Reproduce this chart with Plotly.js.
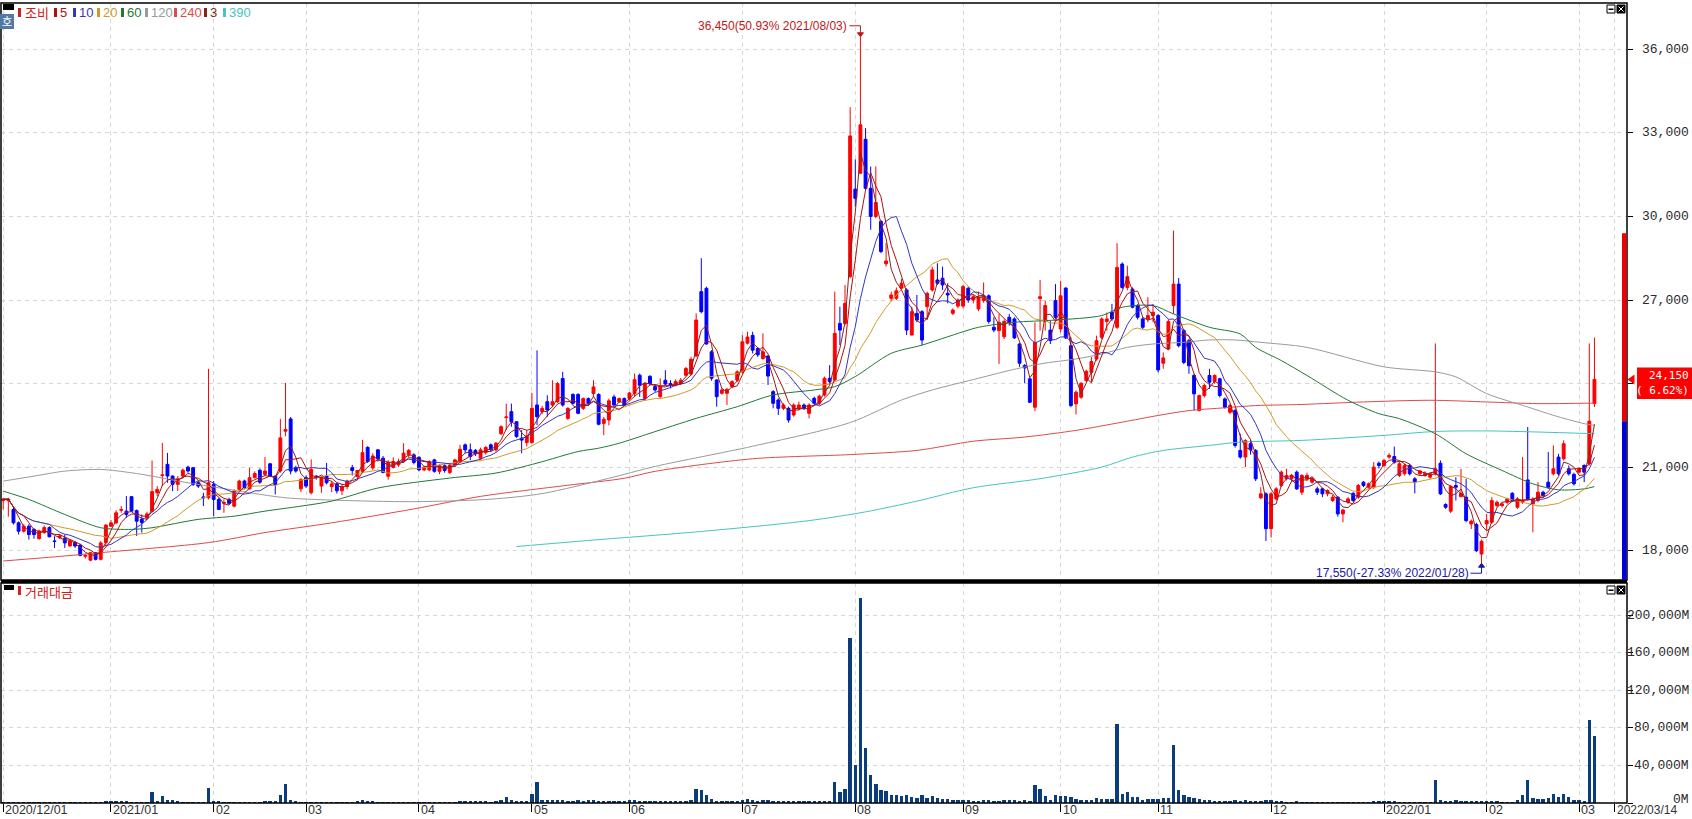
<!DOCTYPE html>
<html><head><meta charset="utf-8">
<script src="https://cdn.plot.ly/plotly-3.0.1.min.js"></script>
<style>html,body{margin:0;padding:0;background:#fff;overflow:hidden}#chart{width:1692px;height:819px}</style>
</head><body><div id="chart"></div>
<script>
// ---------- DATA (one entry per trading day, 2020/12/01 .. 2022/03) ----------
const openP = [
19800,19800,19480,19000,18700,18880,18760,18430,18650,18830,
18350,18470,18450,18170,18290,18200,17800,17660,17930,17690,
18290,18880,19000,19450,19420,19940,19440,19130,19180,19420,
20080,20700,21100,20680,20380,20680,21000,20980,20440,19930,
19900,20380,19840,19700,19840,19600,20200,20500,20220,20620,
20890,20740,21120,20680,20860,22290,22730,20980,20220,20620,
20080,20680,20320,20680,20300,20400,20150,20300,20980,20660,
20850,21710,20970,21620,21320,20670,20990,21080,21200,21440,
21440,21350,20900,20900,21260,20850,21050,20810,21080,21200,
21800,21620,21600,21320,21520,21800,21620,22200,22780,22990,
22630,22040,21880,21880,23230,22990,23350,23230,23350,24180,
22750,23610,23610,23110,23460,23640,23610,22570,22690,23520,
23350,23460,23460,23640,24300,23460,24260,23890,23530,24120,
24000,23950,24000,24300,24340,24990,27300,27420,25140,24130,
23650,23650,23890,24120,24420,25450,25730,25260,24900,24990,
23710,23410,23110,23110,22870,23110,23230,22930,23470,23290,
23590,24190,24130,26160,26160,27840,30980,31550,32770,31010,
30000,29820,28300,27060,27060,27420,27360,25740,26520,26580,
26760,27360,27720,27780,27240,26520,26780,26780,27420,27000,
26680,26980,27150,26020,25900,25680,26380,26320,25420,24650,
24170,23150,27050,26230,25920,26980,25960,27430,25360,23270,
23510,24110,24400,24880,25660,26230,26560,26020,28290,27450,
27390,26800,26320,26320,26440,26440,24730,25240,26800,27570,
25900,25540,24290,23030,23570,24290,24080,24170,23450,22970,
23030,21600,21360,21840,21600,19900,20040,18790,19860,20340,
20580,20580,20820,20100,20580,20460,20220,20220,20040,19800,
19920,19320,19740,20060,19920,20460,20280,20280,21140,21060,
21360,21380,20700,20760,21060,20580,20760,20700,20640,20760,
21140,19660,19420,20340,19940,19920,18960,18940,17880,18960,
19020,19620,19620,19740,20060,19560,19740,20540,19680,19800,
20100,20460,20760,21360,21300,20940,20740,20820,21060,21120,
23280];
const highP = [
19900,19900,19600,19050,18950,18950,18820,18760,18900,18880,
18520,18600,18580,18400,18350,18250,17900,17950,17950,18350,
18950,19100,19450,19600,19960,19950,19480,19300,19400,21240,
20320,21870,21510,20700,20680,20950,21050,21000,20500,20080,
24530,20500,19900,19840,19900,20200,20550,20550,20980,20850,
20950,21360,21150,20700,22730,24020,22800,21050,20600,20700,
21280,20700,20680,21150,20500,20450,20400,20550,21080,20900,
21980,21750,21500,21650,21400,21250,21350,21300,21860,21650,
21500,21400,21050,21250,21300,21100,21100,21150,21300,21800,
21850,21850,21650,21700,21750,21850,21900,22500,23280,23280,
22650,22330,22330,23670,25190,23200,23580,24120,24050,24420,
23150,23650,23650,23500,23500,24120,23650,22800,23460,23600,
23500,23500,23700,24360,24360,24050,24300,23950,24190,24480,
24120,24150,24200,24600,24960,26520,28500,27480,25200,24150,
23830,23850,24120,24480,25740,25860,25860,25300,25800,25020,
23760,23470,23290,23170,23290,23350,23290,23290,23530,23600,
24250,24660,27300,26760,27540,33920,32050,36450,33170,31790,
31790,29880,29050,27300,27450,27750,27420,26760,27180,26640,
27300,28200,28320,28200,27600,26700,27060,27540,27480,27180,
27300,27630,27200,26380,26500,26300,26500,26380,25450,24700,
24200,26200,27720,26980,26250,27570,27690,27450,25660,23750,
24050,24500,24950,25720,26380,26550,26860,29040,28350,28230,
27450,26850,26380,27100,26860,26500,25120,26300,29490,27790,
25960,25600,24350,23600,23990,24530,24330,24210,23500,23270,
23100,22200,22000,22000,21650,20280,20100,20100,20280,20880,
20940,20750,20880,20750,20800,20650,20300,20260,20200,20000,
19960,19500,19920,20100,20400,20500,20450,21180,21200,21300,
21500,21740,21200,21120,21120,20640,20900,20850,20800,25440,
21240,19700,20350,20640,20940,20580,19120,19000,18400,19320,
19920,19800,19750,19900,20100,19920,21360,22440,19920,20460,
20150,21540,21780,21480,21960,21060,20800,21000,21100,25440,
25650];
const lowP = [
19480,19220,18940,18580,18650,18400,18430,18400,18600,18480,
18100,18420,18100,18150,18100,17800,17720,17620,17650,17650,
18170,18850,18950,19360,19180,19400,18530,18650,19100,19400,
19960,20320,20440,20140,20140,20600,20800,20320,20250,19600,
19840,19240,19480,19360,19650,19550,20150,20200,20200,20600,
20400,20680,20650,20020,20800,22110,20740,20800,20100,20250,
20020,20550,20080,20380,20100,20050,20000,20200,20700,20550,
20800,21150,20900,21200,20780,20550,20950,21000,21150,21350,
21100,20850,20850,20850,20800,20750,20800,20750,21000,21150,
21500,21250,21400,21250,21450,21550,21550,22150,22330,22450,
22050,21500,21740,21850,22510,22900,22810,23150,23300,23170,
22700,23250,22900,23050,23200,23520,22500,22150,22500,23200,
23300,23200,23400,23520,23520,23400,23950,23700,23470,23950,
23830,23900,23950,24250,24300,24950,26520,25400,24100,23170,
23600,23230,23830,24060,24360,25400,25080,24960,24850,23950,
23110,22870,23050,22600,22810,23050,23050,22750,23230,23230,
23530,24000,24070,25380,26100,27780,30350,31550,30950,29520,
29940,28680,28200,26950,27000,27350,25740,25740,26200,25380,
26280,27300,27540,27360,26880,26460,26700,26700,26900,26880,
26600,26900,26150,25840,24700,25600,26080,25600,24600,24010,
23300,23010,25900,25900,25420,26320,25840,25600,23150,22890,
23450,24050,24050,24820,25600,25900,26250,25960,27400,27350,
26700,26300,25960,26200,26200,24400,24530,25200,26500,25300,
24700,24350,23030,23000,23500,23810,23990,23500,23100,22900,
21700,21300,21000,21450,20500,19850,18350,18470,19800,20280,
20520,20500,20180,20000,20500,20400,20000,19920,19950,19750,
19220,19020,19680,19750,19860,20280,20220,20220,20950,21000,
21300,21120,20640,20700,20700,20060,20700,20650,20580,20700,
20000,19500,19350,19800,19920,19020,18780,17950,17550,18720,
18960,19560,19550,19680,19750,19500,19680,19800,18660,19740,
19900,20220,20700,20700,21240,20700,20340,20760,20460,21060,
23160];
const closeP = [
19850,19850,19000,18700,18880,18580,18580,18700,18830,18500,
18330,18530,18280,18350,18170,17830,17830,17930,17690,18280,
18920,19000,19360,19480,19300,19420,19060,19010,19320,20120,
20200,20720,20680,20380,20580,20890,20860,20380,20320,19900,
20440,19840,19480,19730,19700,20140,20500,20260,20620,20770,
20460,20860,20680,20380,22050,22350,20860,20860,20560,20320,
20920,20620,20620,20440,20400,20150,20300,20500,20880,20880,
21520,21200,21400,21290,20810,21170,21200,21200,21500,21600,
21170,20900,21000,21200,20850,21050,20880,21070,21260,21640,
21620,21380,21480,21620,21710,21620,21860,22450,22800,22630,
22100,21970,22120,23110,22810,23110,23050,23350,24000,23230,
23110,23290,22930,23460,23290,23880,22540,22720,23380,23230,
23460,23230,23660,24140,23940,24000,24000,23770,23890,23980,
23950,24070,24120,24540,24870,26280,26580,25420,24190,23530,
23770,23790,24070,24420,25500,25670,25200,25030,25140,24270,
23290,23110,23230,22690,23230,23230,23110,23230,23290,23550,
24190,24070,25800,25920,26880,32890,30650,33290,31010,30000,
30500,28740,28400,27180,27330,27600,25920,26580,26280,25560,
27240,28080,27600,27540,27180,26640,27000,27480,27000,27120,
27100,27150,26230,25920,26200,26230,26200,25640,24730,24560,
23330,25480,27120,26800,25540,26380,27150,25640,23210,23690,
24010,24440,24790,25540,26320,26320,26320,28170,27450,27840,
26740,26380,26020,26440,26560,24490,24920,26230,27570,25360,
24760,24640,23630,23570,23930,24050,24290,23570,23150,23210,
21780,21360,21960,21620,20580,20040,18790,20040,20220,20820,
20700,20700,20220,20700,20700,20580,20100,20040,20160,19920,
19320,19460,19860,19800,20340,20340,20400,21000,21060,21240,
21420,21180,21120,21060,20760,20460,20860,20780,20760,20940,
20040,19560,20300,20280,20060,19080,19060,18000,18340,19080,
19800,19740,19680,19860,19800,19860,19800,19860,19860,20100,
19980,20280,20940,20760,21840,20760,20400,20940,20820,22650,
24150];
// 거래대금 (million KRW)
const tradeValue = [
1200,1500,1500,1000,900,900,800,800,900,900,
800,800,800,800,800,800,800,700,800,900,
1800,1800,1800,1800,1800,1600,1500,1500,1300,12000,
2600,7500,2900,2800,1800,1600,1500,1500,1600,1500,
16300,2600,1800,1200,1300,1500,1500,1400,1600,1500,
1300,2500,1800,1800,8300,19800,3500,1800,1500,1500,
1500,1200,1200,1100,1000,1000,900,1000,1600,1800,
3500,2200,1700,1500,1300,1600,1200,1100,1500,1500,
1300,1200,1000,1300,1100,900,900,1000,1300,2200,
2000,1800,1700,1700,1700,1500,1800,2800,6800,3200,
2300,2000,2000,10000,22000,3500,3000,3500,3500,3200,
2000,2200,3000,2200,3000,2700,2300,1800,2300,2200,
1800,1800,2800,2800,2300,1700,1800,1800,1800,2000,
1800,1700,1800,2000,3500,15000,14000,9000,4500,2500,
2000,2000,1900,2000,3000,3800,3200,2300,3200,2800,
2600,2000,2000,2000,1800,1800,1800,1800,1700,1700,
2200,2300,22000,12000,15000,176000,40000,218000,58000,30000,
20000,14000,13000,9000,9000,7000,8000,6000,5000,8000,
5500,7500,5500,4500,4000,3500,3500,3000,2800,2500,
2200,2700,2800,2400,2500,2700,2800,3000,2500,2800,
2400,19000,15000,7800,3000,8900,7000,7500,6000,4000,
3500,3500,3500,4800,4500,3800,4200,84000,10000,12000,
6000,6000,3000,4000,4500,4000,5000,5000,62000,14000,
8000,6000,5000,4000,3500,3000,2500,2500,2500,2500,
3000,2500,3000,2500,2500,2000,3000,3000,2200,2000,
1500,1500,1800,1500,1200,1200,1000,1000,1000,1200,
1500,1500,1000,1000,1500,1200,1500,2500,1800,1800,
1800,1700,1600,1200,1500,1200,1000,1000,1000,24000,
3000,2500,2500,3300,2500,2500,2000,2500,2200,2000,
2000,1800,1200,1000,1200,3000,8000,24000,5000,4000,
4000,5000,10000,6000,10000,6000,3000,3500,2500,88000,
71000];

// long moving averages (day index -> value)
const ma60Idx = [0,5,12,19,25,29,38,45,51,58,64,73,87,96,104,112,116,120,126,135,143,150,158,162,166,173,179,184,190,197,205,214,218,224,228,235,241,244,249,254,262,268,272,279,285,292,298,303,308,310];
const ma60Val = [20140,19840,19300,18825,18765,18825,19124,19240,19420,19600,19780,20250,20608,20787,21144,21560,21680,21858,22215,22750,23170,23590,23770,23890,24250,25085,25380,25680,26020,26200,26280,26440,26740,26800,26500,26020,25780,25300,24825,24290,23400,22920,22740,22200,21480,20880,20400,20184,20220,20300];
const ma120Idx = [0,6,12,19,25,29,36,42,48,55,64,80,95,105,118,127,146,165,175,181,190,196,202,209,214,219,224,230,235,240,245,254,269,279,283,289,297,302,308,310];
const ma120Val = [20498,20677,20857,20917,20797,20677,20438,20259,20080,19900,19817,19760,19850,20050,20600,21025,21750,22600,23410,23770,24190,24470,24705,24885,25060,25300,25420,25480,25565,25565,25480,25300,24600,24420,24240,23640,23160,22860,22560,22500];
const ma240Idx = [0,12,19,40,51,64,80,93,110,121,127,146,165,178,189,199,209,218,225,231,238,244,253,265,278,289,299,310];
const ma240Val = [17630,17810,17930,18290,18650,19000,19500,19950,20350,20600,20850,21300,21450,21600,21930,22080,22320,22615,22855,23030,23130,23210,23250,23340,23400,23340,23280,23300];
const ma390Idx = [100,115,136,157,168,178,189,202,214,220,226,235,241,253,269,279,289,299,310];
const ma390Val = [18150,18383,18690,19080,19394,19780,20260,20585,21000,21360,21600,21780,21900,21960,22140,22280,22300,22260,22200];

// axis ticks / labels
const monthTickIdx = [0,21,41,59,81,103,122,144,166,187,206,225,247,269,289,307];
const monthTickText = ['2020/12/01','2021/01','02','03','04','05','06','07','08','09','10','11','12','2022/01','02','03'];
const endTickIdx = 314, endTickText = '2022/03/14';
const priceTicks = [18000,21000,24000,27000,30000,33000,36000];
const volTicks = [0,40000,80000,120000,160000,200000];

// markers
const lastPrice = 24150, lastChangeText = '( 6.62%)';
const prevClose = 22650, upperLimit = 29400;
const highMark = {idx:167, value:36450, text:'36,450(50.93% 2021/08/03)'};
const lowMark  = {idx:288, value:17550, text:'17,550(-27.33% 2022/01/28)'};
const legendItems = [
  {name:'조비', color:'#cc2020'}, {name:'5', color:'#b01010'}, {name:'10', color:'#3535c0'},
  {name:'20', color:'#d09a28'}, {name:'60', color:'#1f7a35'}, {name:'120', color:'#9a9a9a'},
  {name:'240', color:'#dd4a4a'}, {name:'3', color:'#8c2020'}, {name:'390', color:'#45c4c0'}];

// ---------- derived ----------
const idx = closeP.map((_, i) => i);
function sma(arr, n){ return arr.map((_, i) => { const s = Math.max(0, i-n+1); let t = 0; for (let k = s; k <= i; k++) t += arr[k]; return t/(i-s+1); }); }

// ---------- geometry helpers (layout only) ----------
const W = 1692, H = 819, ML = 1, MR = 65, MT = 3, MB = 16;
const PW = W - ML - MR, PH = H - MT - MB;
const PX = px => (px - ML) / PW;
const PY = py => (H - MB - py) / PH;
const priceRange = [16948, 37662];
const volRange = [0, 234043];
const xRange = [-0.4286, 316.34];
const pricePxPerWon = (PY(3) - PY(580)) * PH / (priceRange[1] - priceRange[0]);

const gridColor = '#d6d6d6', gridDash = '4px,4px';
const monoFont = 'Liberation Mono, DejaVu Sans Mono, monospace';
const sansFont = 'Liberation Sans, Arial, sans-serif';
const krFont = 'Noto Sans CJK KR, Noto Sans, sans-serif';

const traces = [];
traces.push({type:'candlestick', x:idx, open:openP, high:highP, low:lowP, close:closeP,
  xaxis:'x', yaxis:'y', whiskerwidth:0, hoverinfo:'skip',
  increasing:{line:{color:'#FF0000', width:1}, fillcolor:'#FF0000'},
  decreasing:{line:{color:'#0000FF', width:1}, fillcolor:'#0000FF'}});
const maLines = [
  {y:sma(closeP,20), color:'#d09a28'},
  {y:sma(closeP,10), color:'#3535c0'},
  {y:sma(closeP,5), color:'#b01010'},
  {y:sma(closeP,3), color:'#8c2020'}];
[{x:ma390Idx,y:ma390Val,color:'#45c4c0'},{x:ma240Idx,y:ma240Val,color:'#dd4a4a'},
 {x:ma120Idx,y:ma120Val,color:'#9a9a9a'},{x:ma60Idx,y:ma60Val,color:'#1f7a35'}].forEach(m => {
  traces.push({type:'scatter', mode:'lines', x:m.x, y:m.y, xaxis:'x', yaxis:'y',
    line:{color:m.color, width:1, shape:'spline', smoothing:0.8}, hoverinfo:'skip'});
});
maLines.forEach(m => traces.push({type:'scatter', mode:'lines', x:idx, y:m.y, xaxis:'x', yaxis:'y',
  line:{color:m.color, width:1}, hoverinfo:'skip'}));
traces.push({type:'bar', x:idx, y:tradeValue, xaxis:'x', yaxis:'y2', width:0.66,
  marker:{color:'#0b3d7c', line:{width:0}}, hoverinfo:'skip'});

// ---------- shapes ----------
const shapes = [];
shapes.push({type:'rect', xref:'paper', yref:'paper', x0:0, x1:1, y0:PY(580), y1:1, line:{color:'#000', width:1.5}, layer:'above'});
shapes.push({type:'rect', xref:'paper', yref:'paper', x0:0, x1:1, y0:0, y1:PY(583), line:{color:'#000', width:1.5}, layer:'above'});
shapes.push({type:'rect', xref:'paper', yref:'paper', x0:0, x1:1, y0:PY(583), y1:PY(580), fillcolor:'#000', line:{width:0}, layer:'above'});
shapes.push({type:'rect', xref:'paper', yref:'paper', x0:PX(3), x1:PX(14), y0:PY(10), y1:PY(4), fillcolor:'#000', line:{width:0}});
shapes.push({type:'rect', xref:'paper', yref:'paper', x0:PX(0), x1:PX(14), y0:PY(29), y1:PY(14), fillcolor:'#5479a6', line:{width:0}});
const legendX = [18,54,73,97,121,145,174,204,223];
legendItems.forEach((it, k) => shapes.push({type:'rect', xref:'paper', yref:'paper', x0:PX(legendX[k]), x1:PX(legendX[k]+3), y0:PY(17), y1:PY(8), fillcolor:it.color, line:{width:0}}));
shapes.push({type:'rect', xref:'paper', yref:'paper', x0:PX(4), x1:PX(14), y0:PY(590), y1:PY(585), fillcolor:'#000', line:{width:0}});
shapes.push({type:'rect', xref:'paper', yref:'paper', x0:PX(18), x1:PX(21), y0:PY(595), y1:PY(586), fillcolor:'#dd2020', line:{width:0}});
[5, 586].forEach(py => {
  shapes.push({type:'rect', xref:'paper', yref:'paper', x0:PX(1607), x1:PX(1615), y0:PY(py+8), y1:PY(py), fillcolor:'#fff', line:{color:'#000', width:1}});
  shapes.push({type:'rect', xref:'paper', yref:'paper', x0:PX(1608.5), x1:PX(1613.5), y0:PY(py+5), y1:PY(py+3.5), fillcolor:'#000', line:{width:0}});
  shapes.push({type:'rect', xref:'paper', yref:'paper', x0:PX(1617), x1:PX(1625), y0:PY(py+8), y1:PY(py), fillcolor:'#000', line:{color:'#000', width:1}});
  shapes.push({type:'line', xref:'paper', yref:'paper', x0:PX(1618.5), x1:PX(1623.5), y0:PY(py+6.5), y1:PY(py+1.5), line:{color:'#fff', width:1}});
  shapes.push({type:'line', xref:'paper', yref:'paper', x0:PX(1618.5), x1:PX(1623.5), y0:PY(py+1.5), y1:PY(py+6.5), line:{color:'#fff', width:1}});
});
shapes.push({type:'rect', xref:'paper', yref:'y', x0:PX(1622), x1:PX(1626.5), y0:prevClose, y1:upperLimit, fillcolor:'#ee0000', line:{width:0}});
shapes.push({type:'rect', xref:'paper', yref:'y', x0:PX(1622), x1:PX(1626.5), y0:priceRange[0], y1:prevClose, fillcolor:'#0000dd', line:{width:0}});
shapes.push({type:'path', xref:'paper', yref:'y', xsizemode:'pixel', ysizemode:'pixel', xanchor:PX(1627.5), yanchor:lastPrice,
  path:'M0,0 L7,5 L7,-5 Z', fillcolor:'#ff0000', line:{width:0}});
shapes.push({type:'rect', xref:'paper', yref:'y', ysizemode:'pixel', yanchor:lastPrice, x0:PX(1637), x1:PX(1692), y0:-19.5, y1:12,
  fillcolor:'#ff0000', line:{width:0}});
shapes.push({type:'path', xref:'x', yref:'y', xsizemode:'pixel', ysizemode:'pixel', xanchor:highMark.idx, yanchor:highMark.value,
  path:'M-11,11 L0,11 L0,2', line:{color:'#c01818', width:1}});
shapes.push({type:'path', xref:'x', yref:'y', xsizemode:'pixel', ysizemode:'pixel', xanchor:highMark.idx, yanchor:highMark.value,
  path:'M-3,4 L3,4 L0,0 Z', fillcolor:'#c01818', line:{color:'#c01818', width:1}});
shapes.push({type:'path', xref:'x', yref:'y', xsizemode:'pixel', ysizemode:'pixel', xanchor:lowMark.idx, yanchor:lowMark.value,
  path:'M-11,-10 L0,-10 L0,-2', line:{color:'#1a1aa0', width:1}});
shapes.push({type:'path', xref:'x', yref:'y', xsizemode:'pixel', ysizemode:'pixel', xanchor:lowMark.idx, yanchor:lowMark.value,
  path:'M-3,-4 L3,-4 L0,0 Z', fillcolor:'#1a1aa0', line:{color:'#1a1aa0', width:1}});

// ---------- annotations ----------
const ann = [];
// price tick labels (the one hidden under the current-price box is not drawn, as in the original)
priceTicks.filter(v => Math.abs(v - lastPrice) * pricePxPerWon > 22).forEach(v => ann.push({xref:'paper', x:PX(1690), xanchor:'right', yref:'y', y:v, yanchor:'middle', borderpad:0,
  text:v.toLocaleString('en-US'), showarrow:false, font:{family:monoFont, size:13, color:'#2a2a2a'}}));
volTicks.forEach(v => ann.push({xref:'paper', x:PX(1690), xanchor:'right', yref:'y2', y:v, yanchor:'middle', borderpad:0,
  yshift: v === 0 ? 4 : 0,
  text:v.toLocaleString('en-US') + 'M', showarrow:false, font:{family:monoFont, size:13, color:'#2a2a2a'}}));
monthTickIdx.forEach((t, k) => ann.push({xref:'x', x:t, xanchor:'left', xshift:1, yref:'paper', y:PY(818.5), yanchor:'bottom', borderpad:0,
  text:monthTickText[k], showarrow:false, font:{family:sansFont, size:12.5, color:'#333'}}));
ann.push({xref:'x', x:endTickIdx, xanchor:'left', xshift:1, yref:'paper', y:PY(818.5), yanchor:'bottom', borderpad:0, text:endTickText, showarrow:false,
  font:{family:sansFont, size:12, color:'#333'}});
const legendTX = [24,59,78,102,126,150,179,209,228];
legendItems.forEach((it, k) => ann.push({xref:'paper', x:PX(legendTX[k]), xanchor:'left', yref:'paper', y:PY(12.5), yanchor:'middle', borderpad:0,
  text:it.name, showarrow:false, font:{family:k === 0 ? krFont : sansFont, size:13, color:it.color}}));
ann.push({xref:'paper', x:PX(7), xanchor:'center', yref:'paper', y:PY(21.5), yanchor:'middle', text:'호', showarrow:false, borderpad:0,
  font:{family:krFont, size:11, color:'#fff'}});
ann.push({xref:'paper', x:PX(24), xanchor:'left', yref:'paper', y:PY(591), yanchor:'middle', text:'거래대금', showarrow:false, borderpad:0,
  font:{family:krFont, size:13, color:'#cc2020'}});
ann.push({xref:'x', x:highMark.idx, xanchor:'right', xshift:-12, yref:'y', y:highMark.value, yshift:11, yanchor:'middle', borderpad:0,
  text:highMark.text, showarrow:false, font:{family:sansFont, size:12, color:'#c01818'}});
ann.push({xref:'x', x:lowMark.idx, xanchor:'right', xshift:-12, yref:'y', y:lowMark.value, yshift:-10, yanchor:'middle', borderpad:0,
  text:lowMark.text, showarrow:false, font:{family:sansFont, size:12, color:'#1a1aa0'}});
ann.push({xref:'paper', x:PX(1690), xanchor:'right', yref:'y', y:lastPrice, yshift:4, yanchor:'middle', borderpad:0,
  text:lastPrice.toLocaleString('en-US'), showarrow:false, font:{family:'DejaVu Sans Mono, monospace', size:11, color:'#fff'}});
ann.push({xref:'paper', x:PX(1690), xanchor:'right', yref:'y', y:lastPrice, yshift:-11, yanchor:'middle', borderpad:0,
  text:lastChangeText, showarrow:false, font:{family:'DejaVu Sans Mono, monospace', size:11, color:'#fff'}});

const axisCommon = {showgrid:true, gridcolor:gridColor, griddash:gridDash, gridwidth:1, zeroline:false, fixedrange:true,
  ticks:'outside', ticklen:5, tickcolor:'#000', tickwidth:1, showticklabels:false, showline:false};
const layout = {
  width:W, height:H, margin:{l:ML, r:MR, t:MT, b:MB, pad:0}, paper_bgcolor:'#fff', plot_bgcolor:'#fff',
  showlegend:false, bargap:0, boxgap:0.2,
  xaxis:Object.assign({}, axisCommon, {range:xRange, anchor:'y2', tickvals:monthTickIdx.concat([endTickIdx]), ticklen:8,
    rangeslider:{visible:false}}),
  yaxis:Object.assign({}, axisCommon, {domain:[PY(580), 1], range:priceRange, side:'right', tickvals:priceTicks, anchor:'x'}),
  yaxis2:Object.assign({}, axisCommon, {domain:[0, PY(583)], range:volRange, side:'right', tickvals:volTicks, anchor:'x'}),
  shapes:shapes, annotations:ann
};
Plotly.newPlot('chart', traces, layout, {staticPlot:true, displayModeBar:false});
</script></body></html>
